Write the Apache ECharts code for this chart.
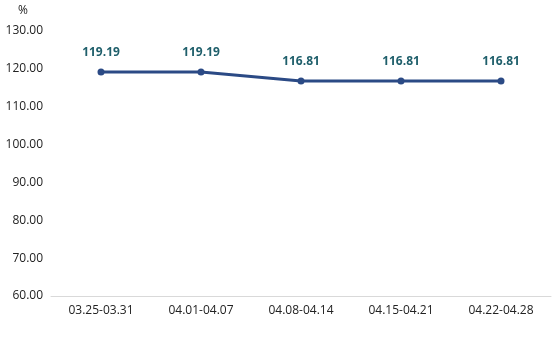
<!DOCTYPE html>
<html><head><meta charset="utf-8">
<script src="https://cdn.jsdelivr.net/npm/echarts@6/dist/echarts.min.js"></script>
<style>html,body{margin:0;padding:0;background:#fff}#c{width:554px;height:340px}</style>
</head><body><div id="c"></div>
<script>
const categories = ['03.25-03.31','04.01-04.07','04.08-04.14','04.15-04.21','04.22-04.28'];
const values = [119.19, 119.19, 116.81, 116.81, 116.81];
const chart = echarts.init(document.getElementById('c'));
chart.setOption({
  animation: false,
  grid: {left: 51, right: 3, top: 31, bottom: 44},
  xAxis: {
    type: 'category', data: categories, boundaryGap: true,
    axisLine: {lineStyle: {color: '#d9d9d9'}},
    axisTick: {show: false},
    axisLabel: {color: '#222', fontFamily: 'Open Sans', fontSize: 12, margin: 9}
  },
  yAxis: {
    type: 'value', min: 60, max: 130, interval: 10,
    name: '%', nameGap: 14, nameTextStyle: {color: '#222', fontFamily: 'Open Sans', fontSize: 12, align: 'right', padding: [0, 23, 0, 0]},
    axisLine: {show: false}, axisTick: {show: false}, splitLine: {show: false},
    axisLabel: {color: '#222', fontFamily: 'Open Sans', fontSize: 12, margin: 8, formatter: v => v.toFixed(2)}
  },
  series: [{
    type: 'line', data: values, symbol: 'circle', symbolSize: 7,
    lineStyle: {color: '#2b4a85', width: 3},
    itemStyle: {color: '#2b4a85'},
    label: {show: true, position: 'top', distance: 10, color: '#1f5f6b', fontWeight: 'bold', fontFamily: 'Open Sans', fontSize: 12, formatter: p => p.value.toFixed(2)}
  }]
});
</script></body></html>
